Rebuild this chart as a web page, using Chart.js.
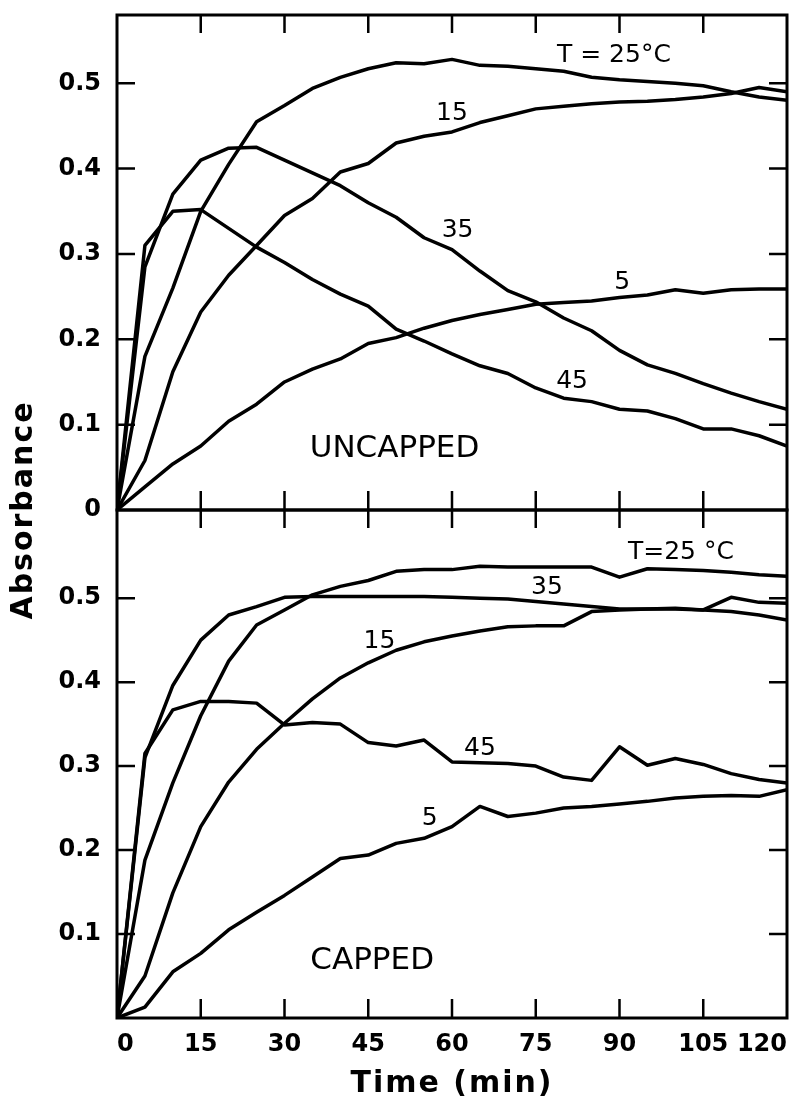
<!DOCTYPE html>
<html>
<head>
<meta charset="utf-8">
<script src="https://cdn.jsdelivr.net/npm/chart.js@4.4.1/dist/chart.umd.min.js"></script>
<style>
    html, body { margin: 0; padding: 0; background: #fff; }
    #wrap { position: relative; width: 803px; height: 1101px; }
    #wrap canvas { position: absolute; left: 0; top: 0; }
</style>
</head>
<body>
<div id="wrap">
    <canvas id="lowerChart" width="803" height="1101"></canvas>
    <canvas id="upperChart" width="803" height="1101"></canvas>
</div>
<script>
// sampling times (min)
const minutes = [0, 5, 10, 15, 20, 25, 30, 35, 40, 45, 50, 55, 60, 65, 70, 75, 80, 85, 90, 95, 100, 105, 110, 115, 120];
const timeTicks = [0, 15, 30, 45, 60, 75, 90, 105, 120];
const absTicks = [0, 0.1, 0.2, 0.3, 0.4, 0.5];

// uncapped absorbance, one list per temperature
const uncapped25 = [0, 0.18, 0.26, 0.35, 0.405, 0.455, 0.474, 0.494, 0.507, 0.517, 0.524, 0.523, 0.528, 0.521, 0.52, 0.517, 0.514, 0.507, 0.504, 0.502, 0.5, 0.497, 0.49, 0.484, 0.48];
const uncapped15 = [0, 0.058, 0.162, 0.232, 0.275, 0.31, 0.345, 0.365, 0.396, 0.406, 0.43, 0.438, 0.443, 0.454, 0.462, 0.47, 0.473, 0.476, 0.478, 0.479, 0.481, 0.484, 0.488, 0.495, 0.49];
const uncapped35 = [0, 0.285, 0.37, 0.41, 0.424, 0.425, 0.41, 0.395, 0.38, 0.36, 0.343, 0.319, 0.305, 0.28, 0.257, 0.244, 0.225, 0.21, 0.187, 0.17, 0.16, 0.148, 0.137, 0.127, 0.118];
const uncapped45 = [0, 0.31, 0.35, 0.352, 0.33, 0.308, 0.29, 0.27, 0.253, 0.239, 0.212, 0.198, 0.183, 0.169, 0.16, 0.143, 0.131, 0.127, 0.118, 0.116, 0.107, 0.095, 0.095, 0.087, 0.075];
const uncapped5 = [0, 0.027, 0.054, 0.075, 0.104, 0.124, 0.15, 0.165, 0.177, 0.195, 0.202, 0.213, 0.222, 0.229, 0.235, 0.241, 0.243, 0.245, 0.249, 0.252, 0.258, 0.254, 0.258, 0.259, 0.259];

// capped absorbance
const capped25 = [0, 0.188, 0.28, 0.36, 0.425, 0.468, 0.486, 0.504, 0.514, 0.521, 0.532, 0.534, 0.534, 0.538, 0.537, 0.537, 0.537, 0.537, 0.525, 0.535, 0.534, 0.533, 0.531, 0.528, 0.526];
const capped35 = [0, 0.31, 0.396, 0.45, 0.48, 0.49, 0.501, 0.502, 0.502, 0.502, 0.502, 0.502, 0.501, 0.5, 0.499, 0.496, 0.493, 0.49, 0.487, 0.487, 0.487, 0.486, 0.484, 0.48, 0.474];
const capped15 = [0, 0.05, 0.149, 0.228, 0.281, 0.32, 0.351, 0.38, 0.405, 0.423, 0.438, 0.448, 0.455, 0.461, 0.466, 0.467, 0.467, 0.484, 0.486, 0.487, 0.488, 0.486, 0.501, 0.495, 0.494];
const capped45 = [0, 0.315, 0.367, 0.377, 0.377, 0.375, 0.349, 0.352, 0.35, 0.328, 0.324, 0.331, 0.305, 0.304, 0.303, 0.3, 0.287, 0.283, 0.323, 0.301, 0.309, 0.302, 0.291, 0.284, 0.28];
const capped5 = [0, 0.013, 0.055, 0.077, 0.105, 0.126, 0.146, 0.168, 0.19, 0.194, 0.208, 0.214, 0.228, 0.252, 0.24, 0.244, 0.25, 0.252, 0.255, 0.258, 0.262, 0.264, 0.265, 0.264, 0.272];

const FONT = "'DejaVu Sans', sans-serif";

function toPoints(values) {
    return minutes.map((m, i) => ({ x: m, y: values[i] }));
}

function curve(values) {
    return {
        data: toPoints(values),
        borderColor: '#000',
        borderWidth: 3.5,
        pointRadius: 0,
        tension: 0,
        fill: false,
        borderJoinStyle: 'round',
        borderCapStyle: 'round'
    };
}

// frame, inward ticks and curve labels
const framePlugin = {
    id: 'frame',
    afterDraw(chart, args, opts) {
        const ctx = chart.ctx;
        const { left, right, top, bottom } = chart.chartArea;
        const x = chart.scales.x;
        const y = chart.scales.y;
        ctx.save();
        ctx.strokeStyle = '#000';
        ctx.lineWidth = 3;
        ctx.strokeRect(left, top, right - left, bottom - top);
        ctx.lineWidth = 2.5;
        ctx.beginPath();
        timeTicks.slice(1, -1).forEach(t => {
            const px = x.getPixelForValue(t);
            ctx.moveTo(px, top); ctx.lineTo(px, top + 18);
            ctx.moveTo(px, bottom); ctx.lineTo(px, bottom - 19);
        });
        absTicks.slice(1).forEach(v => {
            const py = y.getPixelForValue(v);
            ctx.moveTo(left, py); ctx.lineTo(left + 18, py);
            ctx.moveTo(right, py); ctx.lineTo(right - 18, py);
        });
        ctx.stroke();

        ctx.fillStyle = '#000';
        ctx.textAlign = 'center';
        ctx.textBaseline = 'middle';
        opts.notes.forEach(n => {
            ctx.font = n.font;
            ctx.fillText(n.text, x.getPixelForValue(n.t), y.getPixelForValue(n.v));
        });

        if (opts.axisTitles) {
            ctx.font = 'bold 30px ' + FONT;
            ctx.letterSpacing = '2px';
            ctx.fillText('Time (min)', (left + right) / 2, 1084);
            ctx.translate(24, 510);
            ctx.rotate(-Math.PI / 2);
            ctx.fillText('Absorbance', 0, 0);
        }
        ctx.restore();
    }
};

function makePanel(id, datasets, cfg) {
    new Chart(document.getElementById(id), {
        type: 'line',
        data: { datasets: datasets },
        options: {
            responsive: false,
            animation: false,
            layout: { padding: cfg.padding },
            plugins: {
                legend: { display: false },
                tooltip: { enabled: false },
                frame: { notes: cfg.notes, axisTitles: cfg.axisTitles }
            },
            scales: {
                x: {
                    type: 'linear',
                    min: 0,
                    max: 120,
                    grid: { display: false, drawTicks: false },
                    border: { display: false },
                    afterFit: s => {
                        s.height = cfg.xHeight;
                        s.paddingLeft = 0;
                        s.paddingRight = 0;
                    },
                    afterBuildTicks: s => { s.ticks = timeTicks.map(v => ({ value: v })); },
                    ticks: {
                        display: cfg.xLabels,
                        align: 'inner',
                        padding: 12,
                        color: '#000',
                        font: { family: FONT, size: 24, weight: 'bold' },
                        callback: v => String(v)
                    }
                },
                y: {
                    min: 0,
                    max: cfg.yMax,
                    grid: { display: false, drawTicks: false },
                    border: { display: false },
                    afterFit: s => {
                        s.width = 117;
                        s.paddingTop = 0;
                        s.paddingBottom = 0;
                    },
                    afterBuildTicks: s => { s.ticks = absTicks.map(v => ({ value: v })); },
                    ticks: {
                        padding: 16,
                        color: '#000',
                        font: { family: FONT, size: 24, weight: 'bold' },
                        callback: v => (v === 0 ? cfg.zeroLabel : v.toFixed(1))
                    }
                }
            }
        },
        plugins: [framePlugin]
    });
}

const noteFont = '25px ' + FONT;

makePanel('upperChart',
    [curve(uncapped25), curve(uncapped15), curve(uncapped35), curve(uncapped45), curve(uncapped5)],
    {
        padding: { top: 15, right: 16, bottom: 591, left: 0 },
        yMax: 0.58,
        xHeight: 0,
        xLabels: false,
        zeroLabel: '0',
        axisTitles: false,
        notes: [
            { text: 'T = 25°C', t: 89, v: 0.532, font: noteFont },
            { text: '15', t: 60, v: 0.465, font: noteFont },
            { text: '35', t: 61, v: 0.327, font: noteFont },
            { text: '5', t: 90.5, v: 0.267, font: noteFont },
            { text: '45', t: 81.5, v: 0.15, font: noteFont },
            { text: 'UNCAPPED', t: 49.7, v: 0.072, font: '31px ' + FONT }
        ]
    });

makePanel('lowerChart',
    [curve(capped25), curve(capped35), curve(capped15), curve(capped45), curve(capped5)],
    {
        padding: { top: 510, right: 16, bottom: 0, left: 0 },
        yMax: 0.605,
        xHeight: 83,
        xLabels: true,
        zeroLabel: '',
        axisTitles: true,
        notes: [
            { text: 'T=25 °C', t: 101, v: 0.554, font: noteFont },
            { text: '35', t: 77, v: 0.513, font: noteFont },
            { text: '15', t: 47, v: 0.448, font: noteFont },
            { text: '45', t: 65, v: 0.321, font: noteFont },
            { text: '5', t: 56, v: 0.238, font: noteFont },
            { text: 'CAPPED', t: 45.7, v: 0.068, font: '31px ' + FONT }
        ]
    });
</script>
</body>
</html>
